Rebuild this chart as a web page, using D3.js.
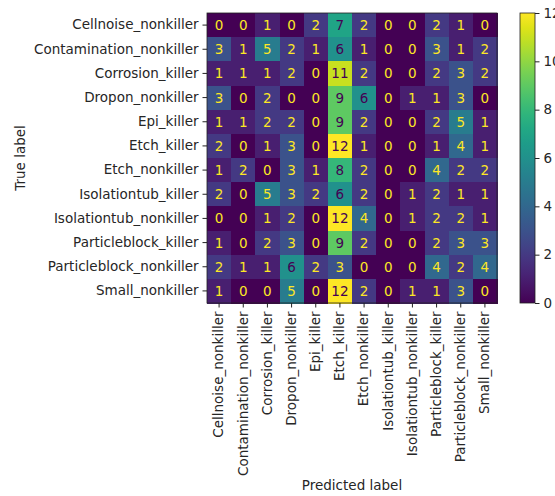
<!DOCTYPE html>
<html><head><meta charset="utf-8">
<script src="https://cdn.jsdelivr.net/npm/d3@7"></script>
<style>body{margin:0;background:#fff}svg{display:block}text{font-family:"DejaVu Sans",sans-serif}</style>
</head><body>
<script>
const labels = ["Cellnoise_nonkiller","Contamination_nonkiller","Corrosion_killer","Dropon_nonkiller","Epi_killer","Etch_killer","Etch_nonkiller","Isolationtub_killer","Isolationtub_nonkiller","Particleblock_killer","Particleblock_nonkiller","Small_nonkiller"];
const matrix = [
 [0,0,1,0,2,7,2,0,0,2,1,0],
 [3,1,5,2,1,6,1,0,0,3,1,2],
 [1,1,1,2,0,11,2,0,0,2,3,2],
 [3,0,2,0,0,9,6,0,1,1,3,0],
 [1,1,2,2,0,9,2,0,0,2,5,1],
 [2,0,1,3,0,12,1,0,0,1,4,1],
 [1,2,0,3,1,8,2,0,0,4,2,2],
 [2,0,5,3,2,6,2,0,1,2,1,1],
 [0,0,1,2,0,12,4,0,1,2,2,1],
 [1,0,2,3,0,9,2,0,0,2,3,3],
 [2,1,1,6,2,3,0,0,0,4,2,4],
 [1,0,0,5,0,12,2,0,1,1,3,0]
];
const colorbarTicks = [0,2,4,6,8,10,12];

const W=555,H=496,FS=13.5;
const L=207,T=13,S=290;
const svg=d3.select("body").append("svg").attr("width",W).attr("height",H);
const x=d3.scaleBand().domain(labels).range([L,L+S]);
const y=d3.scaleBand().domain(labels).range([T,T+S]);
const vmax=d3.max(matrix.flat()), vmin=d3.min(matrix.flat());
const color=d3.scaleSequential(d3.interpolateViridis).domain([vmin,vmax]);
const thresh=(vmax+vmin)/2;

const cells=[];
matrix.forEach((row,i)=>row.forEach((v,j)=>cells.push({r:labels[i],c:labels[j],v})));
svg.append("g").selectAll("rect").data(cells).join("rect")
 .attr("x",d=>x(d.c)).attr("y",d=>y(d.r))
 .attr("width",x.bandwidth()+0.5).attr("height",y.bandwidth()+0.5)
 .attr("fill",d=>color(d.v)).attr("shape-rendering","crispEdges");
svg.append("g").selectAll("text").data(cells).join("text")
 .attr("x",d=>x(d.c)+x.bandwidth()/2).attr("y",d=>y(d.r)+y.bandwidth()/2)
 .attr("text-anchor","middle").attr("dominant-baseline","central")
 .attr("font-size",FS)
 .attr("fill",d=>d.v<thresh?color(vmax):color(vmin))
 .text(d=>d.v);
svg.append("rect").attr("x",L).attr("y",T).attr("width",S).attr("height",S)
 .attr("fill","none").attr("stroke","#222").attr("stroke-width",0.8);

const xa=svg.append("g").attr("transform",`translate(0,${T+S})`)
 .call(d3.axisBottom(x).tickSize(4.5).tickPadding(4));
xa.select(".domain").remove();
xa.selectAll("text").attr("font-size",FS).attr("fill","#262626")
 .attr("transform","rotate(-90)").attr("text-anchor","end")
 .attr("dy","0.32em").attr("x",-8.5).attr("y",0);
xa.selectAll("line").attr("stroke","#222");
const ya=svg.append("g").attr("transform",`translate(${L},0)`)
 .call(d3.axisLeft(y).tickSize(4.5).tickPadding(4));
ya.select(".domain").remove();
ya.selectAll("text").attr("font-size",FS).attr("fill","#262626");
ya.selectAll("line").attr("stroke","#222");

svg.append("text").attr("x",L+S/2).attr("y",490).attr("text-anchor","middle")
 .attr("font-size",FS).attr("fill","#262626").text("Predicted label");
svg.append("text").attr("transform",`translate(25,${T+S/2}) rotate(-90)`)
 .attr("text-anchor","middle").attr("font-size",FS).attr("fill","#262626").text("True label");

// colorbar
const cbX=520,cbW=15;
const cy=d3.scaleLinear().domain([vmin,vmax]).range([T+S,T]);
const defs=svg.append("defs");
const grad=defs.append("linearGradient").attr("id","vg").attr("x1",0).attr("y1",1).attr("x2",0).attr("y2",0);
d3.range(0,1.0001,0.05).forEach(t=>grad.append("stop").attr("offset",t).attr("stop-color",d3.interpolateViridis(t)));
svg.append("rect").attr("x",cbX).attr("y",T).attr("width",cbW).attr("height",S)
 .attr("fill","url(#vg)").attr("stroke","#222").attr("stroke-width",0.8);
const ca=svg.append("g").attr("transform",`translate(${cbX+cbW},0)`)
 .call(d3.axisRight(cy).tickValues(colorbarTicks).tickSize(4.5).tickPadding(4));
ca.select(".domain").remove();
ca.selectAll("text").attr("font-size",FS).attr("fill","#262626");
ca.selectAll("line").attr("stroke","#222");
</script>
</body></html>
